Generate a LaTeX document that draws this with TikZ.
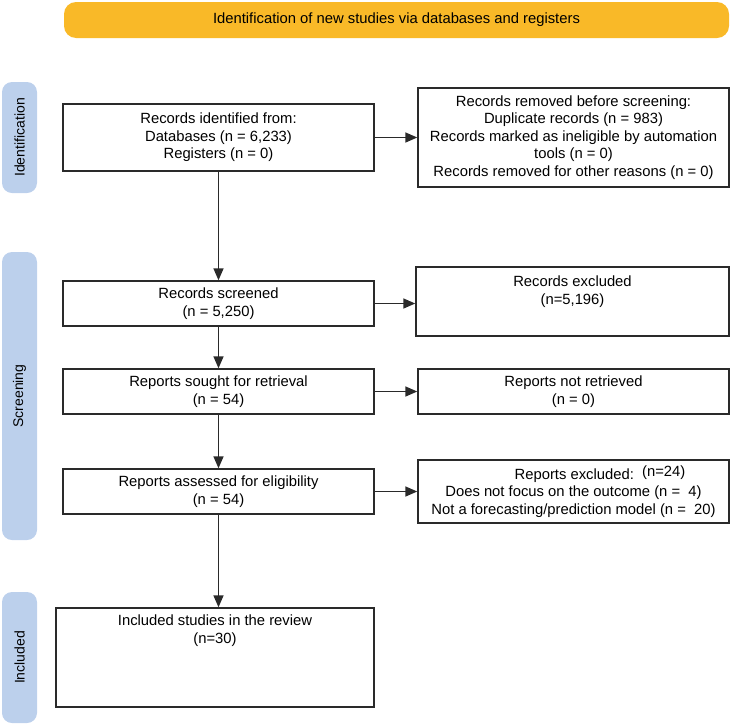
\documentclass[tikz,border=0pt]{standalone}
\usepackage{fontspec}
\newfontfamily\helv{Liberation Sans}
\usetikzlibrary{arrows.meta}
\definecolor{bannerc}{HTML}{F9B928}
\definecolor{pillc}{HTML}{BCD0EC}
\definecolor{linec}{HTML}{2A2A2A}
\tikzset{
  box/.style={draw=linec, line width=1.4pt, fill=white, inner sep=0pt, align=center,
    font=\helv\fontsize{14.8}{17.5}\selectfont, text=black},
  pill/.style={fill=pillc, rounded corners=10pt, rotate=90, inner sep=0pt,
    minimum height=35, font=\helv\fontsize{14}{16}\selectfont, text=black},
  banner/.style={fill=bannerc, rounded corners=12pt, inner sep=0pt,
    font=\helv\fontsize{14.8}{17.5}\selectfont, text=black},
  arr/.style={draw=linec, line width=1.5pt, -{Triangle[length=12pt,width=10pt]}}
}
\begin{document}
\begin{tikzpicture}[x=1pt,y=-1pt]
\useasboundingbox (0,0) rectangle (733,726);
% banner
\node[banner, minimum width=665, minimum height=36] (ban) at (396.5,20) {Identification of new studies via databases and registers};
% phase pills
\node[pill, minimum width=111] (pid) at (19.5,137.5) {Identification};
\node[pill, minimum width=288] (psc) at (19.5,396) {Screening};
\node[pill, minimum width=131] (pin) at (19.5,657.5) {Included};
% boxes
\node[box, minimum width=311, minimum height=67] (b1) at (218.5,137.5)
  {Records identified from:\\Databases (n = 6,233)\\Registers (n = 0)};
\node[box, minimum width=311, minimum height=99] (b2) at (573.5,137.5)
  {Records removed before screening:\\Duplicate records (n = 983)\\Records marked as ineligible by automation\\tools (n = 0)\\Records removed for other reasons (n = 0)};
\node[box, minimum width=311, minimum height=45] (b3) at (218.5,303.5)
  {Records screened\\(n = 5,250)};
\node[box, minimum width=313, minimum height=69] (b4) at (572.5,301.5)
  {Records excluded\\(n=5,196)\\\strut};
\node[box, minimum width=311, minimum height=45] (b5) at (218.5,391.5)
  {Reports sought for retrieval\\(n = 54)};
\node[box, minimum width=311, minimum height=45] (b6) at (573.5,391.5)
  {Reports not retrieved\\(n = 0)};
\node[box, minimum width=311, minimum height=45] (b7) at (218.5,491.5)
  {Reports assessed for eligibility\\(n = 54)};
\node[box, minimum width=311, minimum height=63] (b8) at (573.5,491.5)
  {\hspace*{53pt}Reports excluded:\ \ \raisebox{2.5pt}{(n=24)}\\Does not focus on the outcome (n =\ \ 4)\\Not a forecasting/prediction model (n =\ \ 20)};
\node[box, minimum width=318, minimum height=99] (b9) at (215,657.5)
  {\begin{minipage}[t][83pt][t]{300pt}\centering\vspace{-1pt}Included studies in the review\\(n=30)\end{minipage}};
% connectors
\draw[arr] (b1.east) -- (b2.west);
\draw[arr] (b1.south) -- (b3.north);
\draw[arr] (b3.east) -- (b3.east -| b4.west);
\draw[arr] (b3.south) -- (b5.north);
\draw[arr] (b5.east) -- (b6.west);
\draw[arr] (b5.south) -- (b7.north);
\draw[arr] (b7.east) -- (b8.west);
\draw[arr] (b7.south) -- (b7.south |- b9.north);
\end{tikzpicture}
\end{document}
